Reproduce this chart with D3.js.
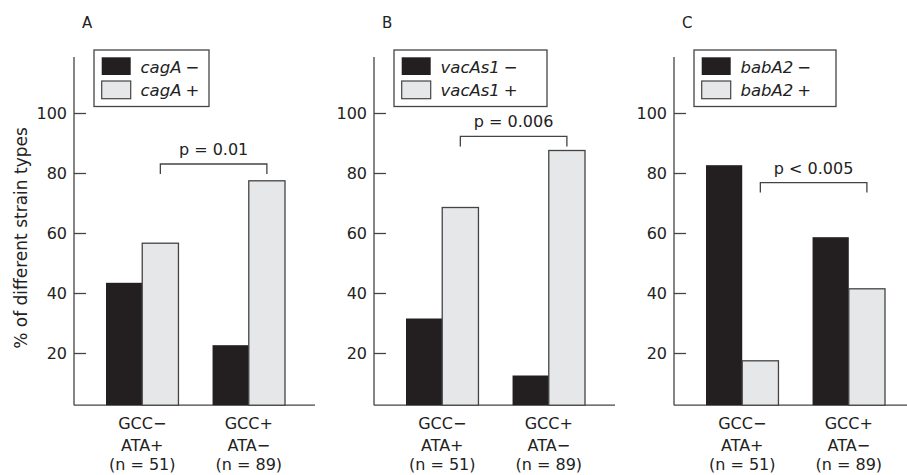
<!DOCTYPE html>
<html>
<head>
<meta charset="utf-8">
<script src="https://cdn.jsdelivr.net/npm/d3@7"></script>
<style>
  body { margin: 0; background: #fff; }
  svg { display: block; font-family: "DejaVu Sans", sans-serif; }
</style>
</head>
<body>
<div id="chart"></div>
<script>
// data
const panelLetters = ["A", "B", "C"]
const genes = ["cagA", "vacAs1", "babA2"]
const groupLines = [["GCC\u2212", "ATA+", "(n = 51)"], ["GCC+", "ATA\u2212", "(n = 89)"]]
const negValues = [[43.4, 22.6], [31.5, 12.5], [82.6, 58.6]]
const posValues = [[56.6, 77.4], [68.5, 87.5], [17.4, 41.4]]
const pLabels = ["p = 0.01", "p = 0.006", "p < 0.005"]
const bracketLevels = [83, 92.2, 76.8]
const yTicks = [20, 40, 60, 80, 100]

const width = 907, height = 475
const panelStep = 300
const axisX = 74
const dark = "#231f20", light = "#e6e7e8", lineCol = "#444"
const fontFam = "DejaVu Sans, sans-serif"

const svg = d3.select("#chart")
    .append("svg")
    .attr("width", width)
    .attr("height", height)

const y = d3.scaleLinear().domain([0, 100]).range([413, 113])
const yBase = 2.6   // the x axis sits a little above zero
const yTop = 118.7

const x0 = d3.scaleBand().domain([0, 1]).range([106, 285]).paddingInner(0.32)
const x1 = d3.scaleBand().domain(["neg", "pos"]).range([0, x0.bandwidth()])

// y axis title
svg.append("text")
    .attr("transform", "translate(27,238) rotate(-90)")
    .attr("text-anchor", "middle")
    .attr("font-size", 17)
    .attr("fill", "#222")
    .text("% of different strain types")

panelLetters.forEach((letter, i) => {
    const g = svg.append("g").attr("transform", `translate(${i * panelStep},0)`)

    g.append("text")
        .attr("x", 82)
        .attr("y", 28)
        .attr("font-size", 15)
        .attr("fill", "#222")
        .text(letter)

    // axes lines
    g.append("line")
        .attr("x1", axisX).attr("x2", axisX)
        .attr("y1", y(yTop)).attr("y2", y(yBase))
        .attr("stroke", lineCol).attr("stroke-width", 1.3)
    g.append("line")
        .attr("x1", axisX).attr("x2", axisX + 241)
        .attr("y1", y(yBase)).attr("y2", y(yBase))
        .attr("stroke", lineCol).attr("stroke-width", 1.3)

    const yAxis = g.append("g")
        .attr("transform", `translate(${axisX},0)`)
        .call(d3.axisLeft(y).tickValues(yTicks).tickSizeInner(-12).tickSizeOuter(0).tickPadding(7))
    yAxis.select(".domain").remove()
    yAxis.selectAll("line").attr("stroke", lineCol).attr("stroke-width", 1.3)
    yAxis.selectAll("text")
        .attr("font-size", 16)
        .attr("font-family", fontFam)
        .attr("fill", "#222")

    // bars
    const rows = [0, 1].map(k => ({ k, neg: negValues[i][k], pos: posValues[i][k] }))
    const grp = g.selectAll(".grp")
        .data(rows)
        .enter()
        .append("g")
        .attr("transform", d => `translate(${x0(d.k)},0)`)

    grp.append("rect")
        .attr("x", x1("neg"))
        .attr("y", d => y(d.neg))
        .attr("width", x1.bandwidth())
        .attr("height", d => y(yBase) - y(d.neg))
        .attr("fill", dark)
    grp.append("rect")
        .attr("x", x1("pos"))
        .attr("y", d => y(d.pos))
        .attr("width", x1.bandwidth())
        .attr("height", d => y(yBase) - y(d.pos))
        .attr("fill", light)
        .attr("stroke", lineCol)
        .attr("stroke-width", 1.3)

    // group labels
    grp.selectAll(".lbl")
        .data(d => groupLines[d.k])
        .enter()
        .append("text")
        .attr("x", x0.bandwidth() / 2)
        .attr("y", (d, j) => [428.5, 450.5, 470][j])
        .attr("text-anchor", "middle")
        .attr("font-size", 16)
        .attr("fill", "#222")
        .text(d => d)

    // p value bracket between the two + bars
    const bx1 = x0(0) + x1("pos") + x1.bandwidth() / 2
    const bx2 = x0(1) + x1("pos") + x1.bandwidth() / 2
    const by = y(bracketLevels[i])
    g.append("path")
        .attr("d", `M${bx1},${by + 10}V${by}H${bx2}V${by + 10}`)
        .attr("fill", "none")
        .attr("stroke", lineCol)
        .attr("stroke-width", 1.3)
    g.append("text")
        .attr("x", (bx1 + bx2) / 2)
        .attr("y", by - 9)
        .attr("text-anchor", "middle")
        .attr("font-size", 16)
        .attr("fill", "#222")
        .text(pLabels[i])

    // legend
    const legW = [115, 153, 142][i]
    const leg = g.append("g").attr("transform", "translate(94,50)")
    leg.append("rect")
        .attr("width", legW).attr("height", 56.5)
        .attr("fill", "#fff").attr("stroke", lineCol).attr("stroke-width", 1.3)
    ;[["neg", "\u2212", dark], ["pos", "+", light]].forEach(([key, sign, col], j) => {
        leg.append("rect")
            .attr("x", 7.7).attr("y", 7.3 + j * 23.7)
            .attr("width", 29).attr("height", 17.7)
            .attr("fill", col)
            .attr("stroke", key === "pos" ? lineCol : "none")
            .attr("stroke-width", 1.2)
        const t = leg.append("text")
            .attr("x", 46.5).attr("y", 22.7 + j * 23)
            .attr("font-size", 16.5)
            .attr("fill", "#222")
        t.append("tspan").attr("font-style", "italic").text(genes[i])
        t.append("tspan").attr("dx", 4).text(sign)
    })
})
</script>
</body>
</html>
